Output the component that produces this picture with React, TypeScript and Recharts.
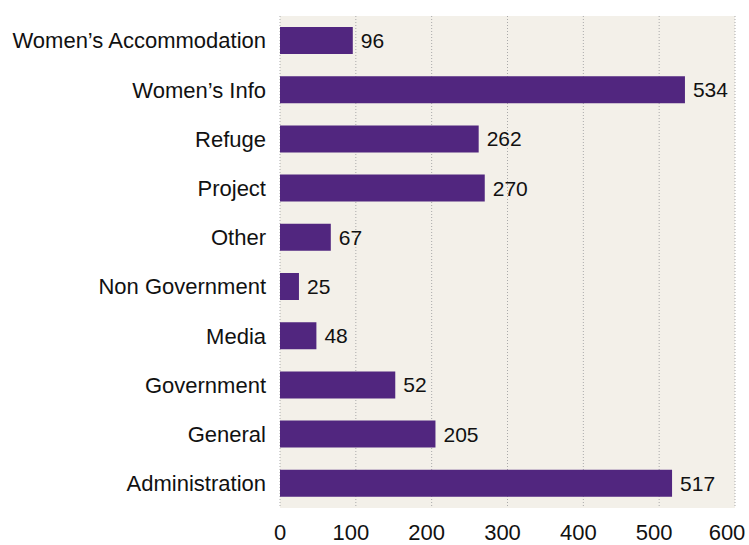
import React from "react";
import { BarChart, Bar, XAxis, YAxis, CartesianGrid, LabelList } from "recharts";

const categories = [
  "Women’s Accommodation",
  "Women’s Info",
  "Refuge",
  "Project",
  "Other",
  "Non Government",
  "Media",
  "Government",
  "General",
  "Administration",
];

// bar lengths as drawn in the picture
const barValues = [96, 534, 262, 270, 67, 25, 48, 152, 205, 517];

// printed labels (Government shows 52 though its bar is longer)
const valueLabels = ["96", "534", "262", "270", "67", "25", "48", "52", "205", "517"];

const xTicks = [0, 100, 200, 300, 400, 500, 600];

const data = categories.map((name, i) => ({
  name,
  value: barValues[i],
  label: valueLabels[i],
}));

const font = "'Liberation Sans', Arial, Helvetica, sans-serif";

// x tick labels sit a little left of their gridlines in the original
function XTick(props: any) {
  const { x, y, payload } = props;
  const shift = payload.value === 0 ? 0 : payload.value === 600 ? -8 : -5;
  return (
    <text
      x={x + shift}
      y={y}
      dy="0.71em"
      textAnchor="middle"
      fontSize={22}
      fill="#111"
      fontFamily={font}
    >
      {payload.value}
    </text>
  );
}

export default function App() {
  return (
    <div style={{ position: "absolute", left: 0, top: 0, fontFamily: font }}>
      <BarChart
        width={749}
        height={545}
        data={data}
        layout="vertical"
        margin={{ top: 16, right: 14, left: 0, bottom: 0 }}
        barSize={27}
      >
        <CartesianGrid
          horizontal={false}
          vertical={true}
          fill="#f3f0e9"
          stroke="#a9a9a9"
          strokeDasharray="1 2"
        />
        <XAxis
          type="number"
          domain={[0, 600]}
          ticks={xTicks}
          axisLine={false}
          tickLine={false}
          tickSize={0}
          tickMargin={16}
          height={37}
          tick={<XTick />}
        />
        <YAxis
          type="category"
          dataKey="name"
          width={280}
          axisLine={false}
          tickLine={false}
          tickSize={0}
          tickMargin={14}
          interval={0}
          tick={{ fontSize: 22, fill: "#111", fontFamily: font }}
        />
        <Bar dataKey="value" fill="#51267f" isAnimationActive={false}>
          <LabelList
            dataKey="label"
            position="right"
            offset={8}
            fill="#111"
            fontSize={21}
            fontFamily={font}
          />
        </Bar>
      </BarChart>
    </div>
  );
}
